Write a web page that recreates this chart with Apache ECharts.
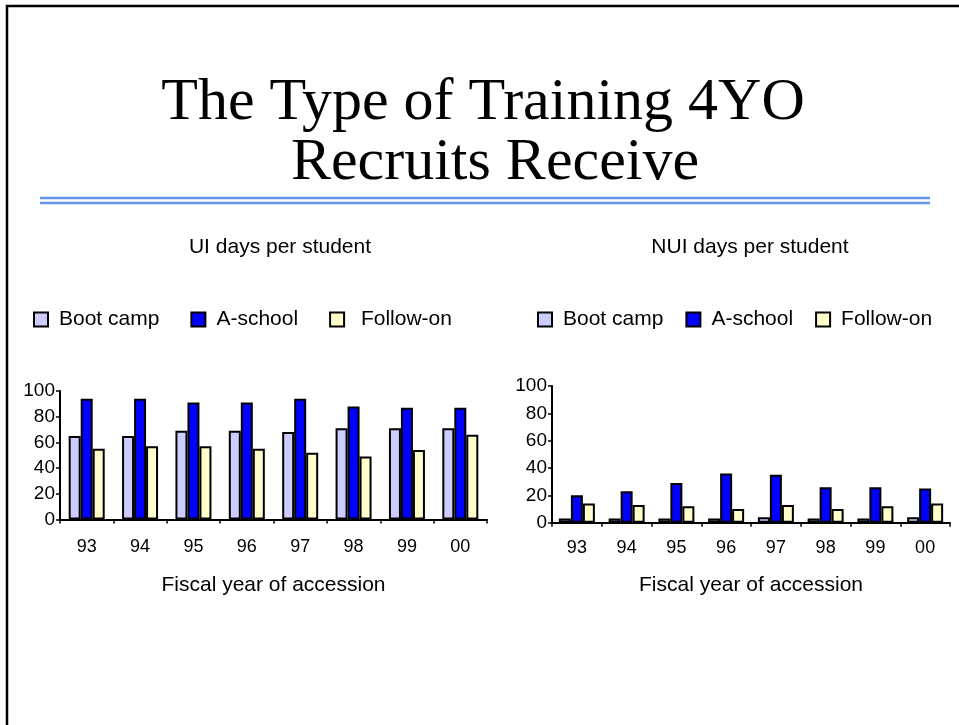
<!DOCTYPE html>
<html lang="en">
<head>
  <meta charset="UTF-8">
  <title>The Type of Training 4YO Recruits Receive</title>
  <style>
    html, body { margin: 0; padding: 0; background: #fff; }
    #main { width: 959px; height: 725px; }
  </style>
</head>
<body>
  <div id="main"></div>
  <script src="https://cdn.jsdelivr.net/npm/echarts@6/dist/echarts.min.js"></script>
  <script>
    var years = ['93', '94', '95', '96', '97', '98', '99', '00'];
    var seriesNames = ['Boot camp', 'A-school', 'Follow-on'];
    var seriesColors = ['#CCCCFF', '#0000FF', '#FFFFCC'];
    var yTicks = { min: 0, max: 100, interval: 20 };

    // UI days per student
    var uiBootCamp = [65, 65, 69, 69, 68, 71, 71, 71];
    var uiASchool = [94, 94, 91, 91, 94, 88, 87, 87];
    var uiFollowOn = [55, 57, 57, 55, 52, 49, 54, 66];

    // NUI days per student
    var nuiBootCamp = [3, 3, 3, 3, 4, 3, 3, 4];
    var nuiASchool = [20, 23, 29, 36, 35, 26, 26, 25];
    var nuiFollowOn = [14, 13, 12, 10, 13, 10, 12, 14];

    var font = "'Liberation Sans', Arial, sans-serif";
    var myChart = echarts.init(document.getElementById('main'));

    function yAxis(idx) {
      return {
        type: 'value', gridIndex: idx,
        min: yTicks.min, max: yTicks.max, interval: yTicks.interval,
        axisLine: { show: true, lineStyle: { color: '#000', width: 2 } },
        axisTick: { show: true, length: 4, lineStyle: { color: '#000', width: 1.5 } },
        axisLabel: { color: '#000', fontSize: 19, fontFamily: font, margin: 5 },
        splitLine: { show: false }
      };
    }

    function xAxis(idx, margin, gap) {
      return {
        type: 'category', gridIndex: idx, data: years,
        name: 'Fiscal year of accession',
        nameLocation: 'middle', nameGap: gap,
        nameTextStyle: { color: '#000', fontSize: 21, fontFamily: font },
        axisLine: { lineStyle: { color: '#000', width: 2 } },
        axisTick: { show: true, length: 4, alignWithLabel: false, lineStyle: { color: '#000', width: 1.5 } },
        axisLabel: { color: '#000', fontSize: 18, fontFamily: font, margin: margin },
        splitLine: { show: false }
      };
    }

    function bars(name, color, data, idx) {
      return {
        name: name, type: 'bar',
        xAxisIndex: idx, yAxisIndex: idx,
        data: data, barWidth: 12, barGap: '0%',
        itemStyle: { color: color, borderColor: '#000', borderWidth: 2 },
        emphasis: { disabled: true }
      };
    }

    function legend(left, gap, extraSpace) {
      return {
        left: left, top: 309, padding: 0,
        itemWidth: 14, itemHeight: 14, itemGap: gap, icon: 'rect',
        data: seriesNames,
        formatter: function (name) {
          return (extraSpace && name === 'Follow-on') ? ' ' + name : name;
        },
        textStyle: { color: '#000', fontSize: 21, fontFamily: font, padding: [0, 0, 0, 6] }
      };
    }

    var option = {
      animation: false,
      backgroundColor: '#fff',
      grid: [
        { left: 60, top: 391, width: 427, height: 128.5 },
        { left: 552, top: 386, width: 398, height: 136.7 }
      ],
      legend: [legend(33, 31, true), legend(537, 22, false)],
      xAxis: [xAxis(0, 19, 55), xAxis(1, 16, 52)],
      yAxis: [yAxis(0), yAxis(1)],
      series: [
        bars(seriesNames[0], seriesColors[0], uiBootCamp, 0),
        bars(seriesNames[1], seriesColors[1], uiASchool, 0),
        bars(seriesNames[2], seriesColors[2], uiFollowOn, 0),
        bars(seriesNames[0], seriesColors[0], nuiBootCamp, 1),
        bars(seriesNames[1], seriesColors[1], nuiASchool, 1),
        bars(seriesNames[2], seriesColors[2], nuiFollowOn, 1)
      ],
      graphic: [
        // slide frame
        { type: 'rect', shape: { x: 7, y: 6, width: 1000, height: 800 },
          style: { fill: 'none', stroke: '#000', lineWidth: 2.5 } },
        { type: 'text', style: { text: 'The Type of Training 4YO', x: 483, y: 103,
          align: 'center', verticalAlign: 'middle', fill: '#000',
          font: "60px 'Liberation Serif', 'Times New Roman', serif" } },
        { type: 'text', style: { text: 'Recruits Receive', x: 495, y: 163,
          align: 'center', verticalAlign: 'middle', fill: '#000',
          font: "60px 'Liberation Serif', 'Times New Roman', serif" } },
        // double rule under title
        { type: 'line', shape: { x1: 40, y1: 198, x2: 930, y2: 198 },
          style: { stroke: '#6495ED', lineWidth: 2.5 } },
        { type: 'line', shape: { x1: 40, y1: 203, x2: 930, y2: 203 },
          style: { stroke: '#6495ED', lineWidth: 2.5 } },
        { type: 'text', style: { text: 'UI days per student', x: 280, y: 247,
          align: 'center', verticalAlign: 'middle', fill: '#000', font: '21px ' + font } },
        { type: 'text', style: { text: 'NUI days per student', x: 750, y: 247,
          align: 'center', verticalAlign: 'middle', fill: '#000', font: '21px ' + font } }
      ]
    };

    myChart.setOption(option);
  </script>
</body>
</html>
